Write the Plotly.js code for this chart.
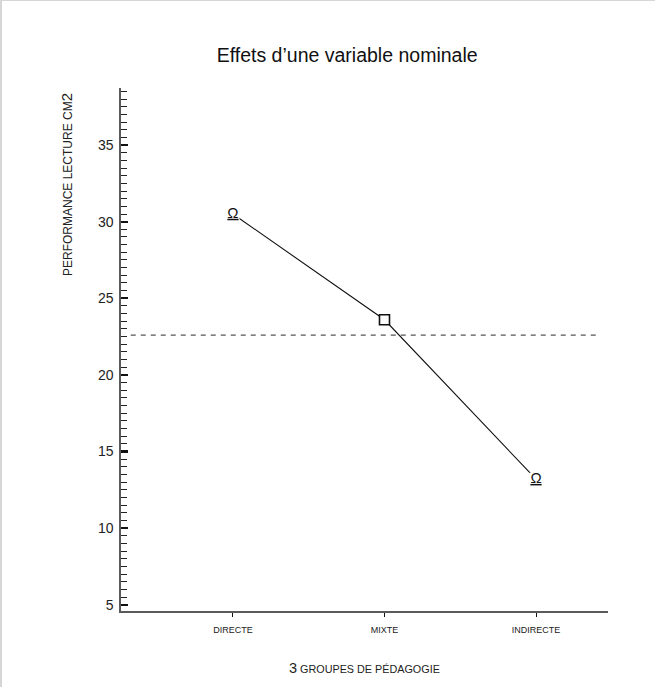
<!DOCTYPE html>
<html>
<head>
<meta charset="utf-8">
<script src="https://cdn.plot.ly/plotly-3.0.1.min.js"></script>
<style>
  html, body { margin: 0; padding: 0; background: #fff; }
  #frame { position: absolute; left: 0; top: 0; width: 653px; height: 686px; border-left: 2px solid #d6d6d6; border-top: 1px solid #d6d6d6; }
  #chart { position: absolute; left: 0; top: 0; width: 655px; height: 687px; }
</style>
</head>
<body>
<div id="frame"></div>
<div id="chart"></div>
<script>
// ---- data ----
const categories = ["DIRECTE", "MIXTE", "INDIRECTE"];
const performance = [30.5, 23.6, 13.2];
const pointSymbols = ["<u>Ω</u>", "", "<u>Ω</u>"];
const grandMean = [22.6];
const yTickVals = [5, 10, 15, 20, 25, 30, 35];
const yTickText = ["5", "10", "15", "20", "25", "30", "35"];

const FONT = "Liberation Sans, Arial, sans-serif";
const catIndex = categories.map((c, i) => i);

// line connecting means
const lineTrace = {
  x: categories, y: performance, type: "scatter", mode: "lines",
  line: { color: "#111", width: 1.1 }, hoverinfo: "skip", showlegend: false
};
// Omega symbols (with white box hiding the line behind)
const omegaIdx = pointSymbols.map((s, i) => s ? i : -1).filter(i => i >= 0);
const omegaTrace = {
  x: omegaIdx.map(i => categories[i]), y: omegaIdx.map(i => performance[i]),
  text: omegaIdx.map(i => pointSymbols[i]),
  type: "scatter", mode: "markers+text", textposition: "middle center",
  marker: { symbol: "square", size: 13, color: "#fff", line: { width: 0 } },
  textfont: { family: FONT, size: 15, color: "#111" },
  hoverinfo: "skip", showlegend: false
};
// square marker
const sqIdx = pointSymbols.map((s, i) => s ? -1 : i).filter(i => i >= 0);
const squareTrace = {
  x: sqIdx.map(i => categories[i]), y: sqIdx.map(i => performance[i]),
  type: "scatter", mode: "markers",
  marker: { symbol: "square", size: 10, color: "#fff", line: { color: "#111", width: 1.6 } },
  hoverinfo: "skip", showlegend: false
};

const xRange = [-0.739, 2.475];

const layout = {
  width: 655, height: 687,
  margin: { l: 121, r: 47, t: 88, b: 76 },
  paper_bgcolor: "rgba(0,0,0,0)", plot_bgcolor: "rgba(0,0,0,0)",
  font: { family: FONT, color: "#111" },
  showlegend: false,
  title: {
    text: "Effets d’une variable nominale",
    font: { family: FONT, size: 19.5, color: "#111" },
    xref: "container", x: 0.53, xanchor: "center",
    yref: "container", y: 1 - 55 / 687, yanchor: "middle"
  },
  xaxis: {
    type: "category", categoryorder: "array", categoryarray: categories,
    range: xRange, fixedrange: true,
    showgrid: false, zeroline: false,
    showline: true, linecolor: "#5a5a5a", linewidth: 1.6,
    ticks: "outside", ticklen: 4, tickwidth: 1, tickcolor: "#111",
    tickfont: { family: FONT, size: 9, color: "#222" },
    ticklabelstandoff: 6
  },
  xaxis2: {
    type: "linear", overlaying: "x", side: "bottom", anchor: "y",
    range: xRange, fixedrange: true,
    tickmode: "array", tickvals: catIndex, showticklabels: false,
    showgrid: false, zeroline: false, showline: false,
    ticks: "inside", ticklen: 5, tickwidth: 1, tickcolor: "#111"
  },
  yaxis: {
    range: [4.6, 38.72], fixedrange: true,
    showgrid: false, zeroline: false,
    showline: true, linecolor: "#5a5a5a", linewidth: 1.6,
    tickmode: "array", tickvals: yTickVals, ticktext: yTickText,
    ticks: "inside", ticklen: 7, tickwidth: 2.2, tickcolor: "#111",
    tickfont: { family: FONT, size: 14, color: "#222" },
    ticklabelstandoff: 3,
    minor: { dtick: 0.5, tick0: 0, ticks: "inside", ticklen: 6, tickwidth: 1, tickcolor: "#222", showgrid: false }
  },
  shapes: [{
    type: "line", xref: "paper", yref: "y",
    x0: 0.02, x1: 0.975, y0: grandMean[0], y1: grandMean[0],
    line: { color: "#555", width: 1.3, dash: "5px,5px" }
  }],
  annotations: [
    {
      text: "PERFORMANCE LECTURE CM<span style=\"font-size:15px\">2</span>",
      xref: "paper", yref: "paper", x: (66 - 121) / 487, y: (611 - 185) / 523,
      xanchor: "center", yanchor: "middle", textangle: -90, showarrow: false,
      font: { family: FONT, size: 12, color: "#222" }
    },
    {
      text: "<span style=\"font-size:14.5px\">3</span> GROUPES DE PÉDAGOGIE",
      xref: "paper", yref: "paper", x: 0.5, y: (611 - 668) / 523,
      xanchor: "center", yanchor: "middle", showarrow: false,
      font: { family: FONT, size: 10.8, color: "#222" }
    }
  ]
};

Plotly.newPlot("chart", [lineTrace, omegaTrace, squareTrace], layout, { staticPlot: true, displayModeBar: false });
</script>
</body>
</html>
